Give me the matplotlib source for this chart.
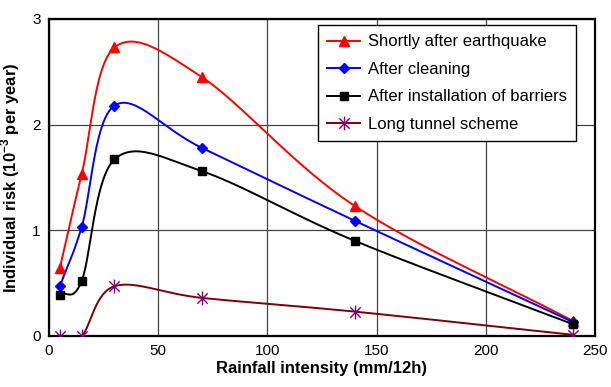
import matplotlib
matplotlib.use("Agg")
import matplotlib.pyplot as plt
import numpy as np
from matplotlib.path import Path

plt.rcParams['font.family'] = ['Liberation Sans', 'DejaVu Sans']
plt.rcParams['mathtext.fontset'] = 'custom'
plt.rcParams['mathtext.rm'] = 'Liberation Sans'
plt.rcParams['mathtext.bf'] = 'Liberation Sans:bold'

rainfall = [5, 15, 30, 70, 140, 240]
shortly_after = [0.64, 1.53, 2.73, 2.45, 1.23, 0.14]
after_cleaning = [0.47, 1.03, 2.18, 1.78, 1.09, 0.13]
after_barriers = [0.39, 0.52, 1.67, 1.56, 0.90, 0.11]
long_tunnel = [0.0, 0.0, 0.47, 0.36, 0.23, 0.01]

labels = ["Shortly after earthquake", "After cleaning",
          "After installation of barriers", "Long tunnel scheme"]


def smooth(x, y, n=30):
    # Catmull-Rom through the points, like the spreadsheet "smoothed line"
    x = np.asarray(x, float)
    y = np.asarray(y, float)
    px = np.concatenate([[2 * x[0] - x[1]], x, [2 * x[-1] - x[-2]]])
    py = np.concatenate([[2 * y[0] - y[1]], y, [2 * y[-1] - y[-2]]])
    xs, ys = [], []
    t = np.linspace(0, 1, n)
    for i in range(1, len(px) - 2):
        for p, out in ((px, xs), (py, ys)):
            p0, p1, p2, p3 = p[i - 1], p[i], p[i + 1], p[i + 2]
            c1 = p1 + (p2 - p0) / 6
            c2 = p2 - (p3 - p1) / 6
            out.extend((1 - t) ** 3 * p1 + 3 * (1 - t) ** 2 * t * c1
                       + 3 * (1 - t) * t ** 2 * c2 + t ** 3 * p2)
    return xs, ys


star = Path([(0, -1), (0, 1), (-0.75, -0.75), (0.75, 0.75), (-0.75, 0.75), (0.75, -0.75)],
            [Path.MOVETO, Path.LINETO, Path.MOVETO, Path.LINETO, Path.MOVETO, Path.LINETO])

fig = plt.figure(figsize=(6.11, 3.87), dpi=100)
ax = fig.add_axes([0.080, 0.132, 0.894, 0.819])

series = [
    (shortly_after, 'red', 'red', '^', 7),
    (after_cleaning, 'blue', 'blue', 'D', 5),
    (after_barriers, 'black', 'black', 's', 6),
    (long_tunnel, '#800000', '#800080', star, 10),
]
for (vals, lc, mc, mk, ms), lab in zip(series, labels):
    sx, sy = smooth(rainfall, vals)
    ax.plot(sx, sy, color=lc, lw=1.4, zorder=3)
    ax.plot(rainfall, vals, ls='none', marker=mk, ms=ms, color=mc,
            mec=mc, mew=1.0, zorder=4)
    # legend entry: line plus marker
    ax.plot([], [], color=lc, lw=1.4, marker=mk, ms=ms, mfc=mc, mec=mc, label=lab)

ax.set_xlim(0, 250)
ax.set_ylim(0, 3)
ax.set_xticks([0, 50, 100, 150, 200, 250])
ax.set_yticks([0, 1, 2, 3])
ax.grid(True, color='#444444', lw=0.9)
ax.set_axisbelow(True)
for s in ax.spines.values():
    s.set_linewidth(1.6)
    s.set_color('black')
ax.tick_params(length=0, labelsize=11, pad=6)

ax.set_xlabel("Rainfall intensity (mm/12h)", fontsize=12, fontweight='bold', labelpad=2)
ax.set_ylabel(r"Individual risk (10$^{\mathbf{-3}}$ per year)", fontsize=12,
              fontweight='bold', labelpad=7)

leg = ax.legend(loc='upper right', bbox_to_anchor=(0.965, 0.98), fontsize=12,
                fancybox=False, framealpha=1, edgecolor='black', handlelength=2.0,
                handletextpad=0.45, borderpad=0.55, labelspacing=0.75, borderaxespad=0)
leg.get_frame().set_linewidth(1.0)

plt.savefig("out.png", dpi=100)
plt.close()
